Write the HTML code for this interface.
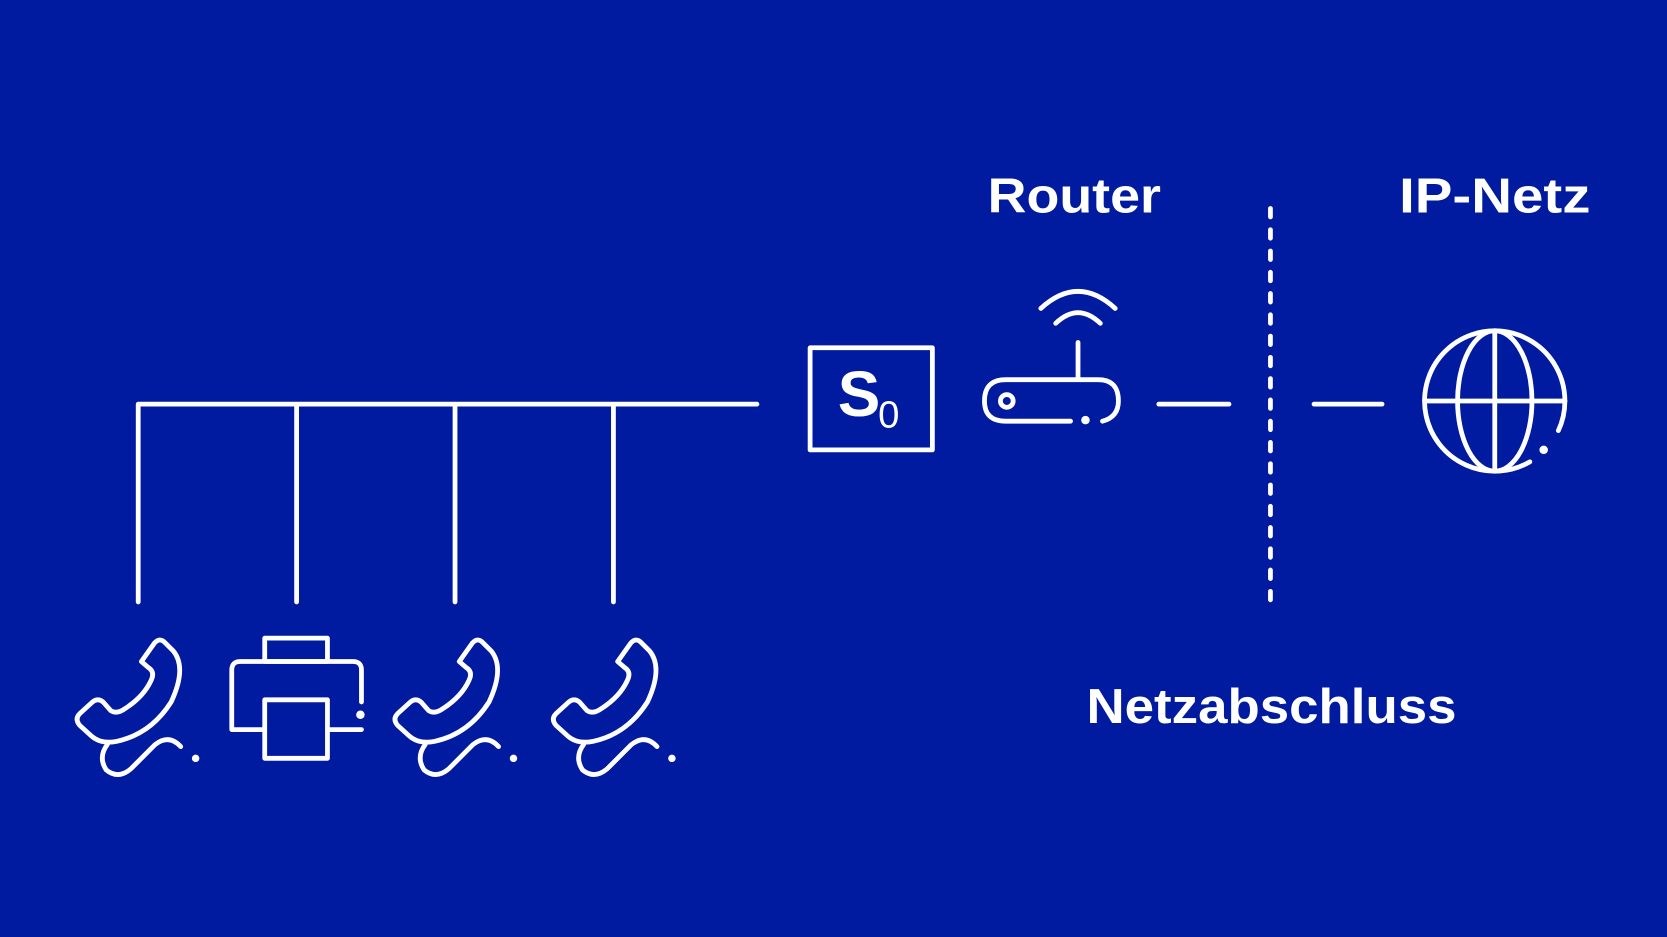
<!DOCTYPE html>
<html><head><style>html,body{margin:0;padding:0;background:#001aa0;}svg{display:block}</style></head>
<body>
<svg width="1667" height="937" viewBox="0 0 1568 881" preserveAspectRatio="none" xmlns="http://www.w3.org/2000/svg">
<rect width="1568" height="881" fill="#001aa0"/>
<defs>
<g id="ph" fill="none" stroke="#fff" stroke-width="4.5" stroke-linecap="round" stroke-linejoin="round">
<path d="M133,622 L145,605 Q150,599 155,604 L163,612 Q176,628 161,660 Q142,690 110,697 Q95,700 86,692 L75,682 Q70,676 75,671 L87,660 Q92,656 97,660 L104,668 Q110,672 118,666 Q135,655 142,640 Q146,632 140,628 Z"/>
<path d="M101,700 Q92,712 100,724 Q111,733 123,723 L146,700 Q159,690 170,702"/>
<circle cx="184" cy="713" r="3.5" fill="#fff" stroke="none"/>
</g>
</defs>
<g fill="none" stroke="#fff" stroke-width="4.5" stroke-linecap="round" stroke-linejoin="round">
<path d="M130,566 L130,380 L712,380 M279,380 L279,566 M428,380 L428,566 M577,380 L577,566"/>
<rect x="762" y="327" width="115" height="96"/>
<path d="M1007,396 L946,396 Q926,396 926,377 Q926,357 946,357 L1033,357 Q1052,357 1052,377 Q1052,392 1037,396"/>
<circle cx="947" cy="377" r="6"/>
<path d="M1014,322 L1014,356"/>
<path d="M993,304 Q1014,284 1035,304"/>
<path d="M979,290 Q1014,258 1049,290"/>
<path d="M1090,380 L1156,380 M1236,380 L1300,380"/>
<path d="M1195,196 L1195,566" stroke-dasharray="8 12"/>
<path d="M1439,434.2 A66,66 0 1 1 1465.8,404.9"/>
<ellipse cx="1406" cy="377" rx="35" ry="66"/>
<path d="M1406,311 L1406,443 M1340,377 L1472,377"/>
<rect x="249" y="600" width="59" height="22"/>
<path d="M218,685 L218,630 Q218,622 226,622 L332,622 Q340,622 340,630 L340,660 M218,686 L248,686 M310,686 L340,686"/>
<rect x="249" y="658" width="59" height="55"/>
</g>
<g fill="#fff">
<circle cx="1021" cy="395" r="4"/>
<circle cx="1452" cy="423" r="4"/>
<circle cx="339" cy="672" r="4"/>
</g>
<use href="#ph"/>
<use href="#ph" x="299"/>
<use href="#ph" x="448"/>
<g fill="#fff" font-family="'Liberation Sans',sans-serif" font-weight="bold">
<text x="788" y="391" font-size="60">S</text>
<text x="826" y="402" font-size="36" font-weight="normal">0</text>
<text x="929" y="200" font-size="46" textLength="163" lengthAdjust="spacingAndGlyphs">Router</text>
<text x="1316" y="200" font-size="46" textLength="180" lengthAdjust="spacingAndGlyphs">IP-Netz</text>
<text x="1022" y="680" font-size="46" textLength="348" lengthAdjust="spacingAndGlyphs">Netzabschluss</text>
</g>
</svg>
</body></html>
